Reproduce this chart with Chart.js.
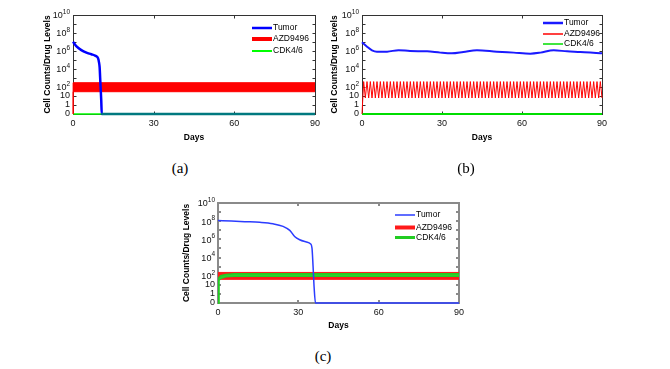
<!DOCTYPE html>
<html lang="en">
<head>
<meta charset="UTF-8">
<title>Tumor and drug levels</title>
<script src="https://cdn.jsdelivr.net/npm/chart.js@4"></script>
<style>
  body { margin: 0; background: #fff; width: 670px; height: 369px; position: relative; overflow: hidden; }
  canvas { position: absolute; }
  .cap { position: absolute; font-family: "Liberation Serif", "Times New Roman", serif; font-size: 15px;
         transform: translate(-50%, -50%); color: #000; }
</style>
</head>
<body>
<canvas id="chartA" width="326" height="149" style="left:1px;top:3px"></canvas>
<canvas id="chartB" width="324" height="149" style="left:290px;top:3px"></canvas>
<canvas id="chartC" width="325" height="150" style="left:146px;top:191px"></canvas>
<div class="cap" style="left:180px;top:168px">(a)</div>
<div class="cap" style="left:466px;top:168px">(b)</div>
<div class="cap" style="left:323px;top:356px">(c)</div>
<script>
// ---- data (days, cell counts / drug levels) ----
const seriesNames = ['Tumor', 'AZD9496', 'CDK4/6'];
const xTicks = [0, 30, 60, 90];
const yDecades = [0.1, 1, 10, 1e2, 1e3, 1e4, 1e5, 1e6, 1e7, 1e8, 1e9, 1e10];
const yLabelVals = [0.1, 1, 10, 1e2, 1e4, 1e6, 1e8, 1e10];
const yLabelBase = ['0', '1', '10', '10', '10', '10', '10', '10'];
const yLabelExp = ['', '', '', '2', '4', '6', '8', '10'];

// (a)
const tumorDaysA = [0, 1.2, 3.1, 5, 6.8, 8.4, 9.3, 9.67, 9.9, 10.2, 10.5, 10.7, 90];
const tumorA = [1.05e7, 3.5e6, 1.26e6, 6.6e5, 4.4e5, 2.9e5, 1.6e5, 5.4e4, 1.6e4, 230, 3.5, 0, 0];
const azdDaysA = [0, 0.05, 90];
const azdHighA = [0, 300, 300];
const azdLowA = [0, 30, 30];
const cdkDaysA = [0, 90];
const cdkA = [0, 0];

// (b)
const tumorDaysB = [0, 1.9, 3.75, 5.6, 9.4, 13.7, 18, 24.4, 29.4, 33.7, 38, 43.1, 50.6, 56.9, 63.1, 66.9, 71.9, 76.9, 81.9, 89.4, 90];
const tumorB = [9.5e6, 3.0e6, 1.2e6, 8.5e5, 8.5e5, 1.25e6, 1.0e6, 9.1e5, 6.6e5, 5.6e5, 7.9e5, 1.25e6, 8.5e5, 6.6e5, 5.1e5, 6.6e5, 1.2e6, 9.1e5, 7.8e5, 5.6e5, 5.5e5];
const azdStepB = 0.625; // days between a peak and the next trough
const azdB = [0,
  400, 6, 400, 6, 400, 6, 400, 6, 400, 6, 400, 6,
  400, 6, 400, 6, 400, 6, 400, 6, 400, 6, 400, 6,
  400, 6, 400, 6, 400, 6, 400, 6, 400, 6, 400, 6,
  400, 6, 400, 6, 400, 6, 400, 6, 400, 6, 400, 6,
  400, 6, 400, 6, 400, 6, 400, 6, 400, 6, 400, 6,
  400, 6, 400, 6, 400, 6, 400, 6, 400, 6, 400, 6,
  400, 6, 400, 6, 400, 6, 400, 6, 400, 6, 400, 6,
  400, 6, 400, 6, 400, 6, 400, 6, 400, 6, 400, 6,
  400, 6, 400, 6, 400, 6, 400, 6, 400, 6, 400, 6,
  400, 6, 400, 6, 400, 6, 400, 6, 400, 6, 400, 6,
  400, 6, 400, 6, 400, 6, 400, 6, 400, 6, 400, 6,
  400, 6, 400, 6, 400, 6, 400, 6, 400, 6, 400, 6];
const cdkDaysB = [0, 90];
const cdkB = [0, 0];

// (c)
const tumorDaysC = [0, 5, 10, 15.6, 20.5, 24.3, 26.8, 28.6, 30.5, 33, 34.5, 35.1, 35.5, 35.9, 36.4, 90];
const tumorC = [1.2e8, 1.05e8, 8.9e7, 7.4e7, 5.2e7, 2.7e7, 9.8e6, 2.1e6, 9.1e5, 5.1e5, 3.3e5, 1.1e5, 1.1e3, 5, 0, 0];
const azdDaysC = [0, 90];
const azdHighC = [230, 230];
const azdLowC = [40, 40];
const cdkDaysC = [0, 0.3, 1, 3, 6, 90];
const cdkHighC = [0, 60, 100, 140, 160, 160];
const cdkLowC = [0, 30, 50, 75, 90, 90];

// ---- drawing ----
const FONT = '"Liberation Sans", Arial, sans-serif';
Chart.defaults.font.family = FONT;
Chart.defaults.font.size = 9;
Chart.defaults.color = '#000';
Chart.defaults.animation = false;
Chart.defaults.elements.point.radius = 0;
Chart.defaults.elements.line.tension = 0;

const FLOOR = 0.1; // the "0" at the bottom of the log axis
const pts = (days, vals) => days.map((d, i) => ({ x: d, y: vals[i] > 0 ? vals[i] : FLOOR }));

// axes box with inward ticks (under the data, like the figure)
const boxPlugin = {
  id: 'box',
  beforeDatasetsDraw(chart, args, o) {
    const { ctx, chartArea: a, scales } = chart;
    const h = o.width % 2 ? 0.5 : 0;
    const L = Math.round(a.left) + h, R = Math.round(a.right) + h;
    const T = Math.round(a.top) + h, B = Math.round(a.bottom) + h;
    ctx.save();
    ctx.strokeStyle = o.color;
    ctx.lineWidth = o.width;
    ctx.strokeRect(L, T, R - L, B - T);
    ctx.beginPath();
    xTicks.forEach(v => {
      const px = Math.round(scales.x.getPixelForValue(v)) + h;
      ctx.moveTo(px, B); ctx.lineTo(px, B - 3);
      ctx.moveTo(px, T); ctx.lineTo(px, T + 3);
    });
    yDecades.forEach(v => {
      const py = Math.round(scales.y.getPixelForValue(v)) + h;
      ctx.moveTo(L, py); ctx.lineTo(L + 3, py);
      ctx.moveTo(R, py); ctx.lineTo(R - 3, py);
    });
    ctx.stroke();

    // y tick labels with raised exponents
    ctx.fillStyle = '#111';
    ctx.textBaseline = 'middle';
    ctx.textAlign = 'left';
    yLabelVals.forEach((v, i) => {
      const py = scales.y.getPixelForValue(v);
      ctx.font = '9px ' + FONT;
      const bw = ctx.measureText(yLabelBase[i]).width;
      let ew = 0;
      if (yLabelExp[i]) {
        ctx.font = '6.5px ' + FONT;
        ew = ctx.measureText(yLabelExp[i]).width;
      }
      const x0 = a.left - 3 - bw - ew;
      ctx.font = '9px ' + FONT;
      ctx.fillText(yLabelBase[i], x0, yLabelExp[i] ? py + 1 : py);
      if (yLabelExp[i]) {
        ctx.font = '6.5px ' + FONT;
        ctx.fillText(yLabelExp[i], x0 + bw, py - 3);
      }
    });
    ctx.restore();
  }
};

// legend inside the plot, no frame
const legendPlugin = {
  id: 'inlegend',
  afterDraw(chart, args, o) {
    const { ctx, chartArea: a } = chart;
    const x0 = a.right + o.dx;
    ctx.save();
    ctx.font = '8.5px ' + FONT;
    ctx.textBaseline = 'middle';
    ctx.fillStyle = '#000';
    o.items.forEach((it, i) => {
      const y = a.top + o.rows[i];
      ctx.strokeStyle = it.color;
      ctx.lineWidth = it.width;
      ctx.beginPath();
      ctx.moveTo(x0, y); ctx.lineTo(x0 + 20, y);
      ctx.stroke();
      ctx.fillText(seriesNames[i], x0 + 21, y);
    });
    ctx.restore();
  }
};

function makeChart(id, datasets, p) {
  // first dataset ends up on top
  datasets.forEach((d, i) => { d.clip = 4; d.order = i; });
  return new Chart(document.getElementById(id), {
    type: 'line',
    data: { datasets },
    plugins: [boxPlugin, legendPlugin],
    options: {
      responsive: false,
      devicePixelRatio: 1,
      layout: { padding: { left: 0, top: 12, right: 12, bottom: 0 } },
      plugins: {
        legend: { display: false },
        tooltip: { enabled: false },
        box: { color: p.axisColor, width: p.axisWidth },
        inlegend: { dx: p.legDx, rows: p.legRows, items: p.legItems }
      },
      scales: {
        x: {
          type: 'linear', min: 0, max: 90,
          afterBuildTicks: s => { s.ticks = xTicks.map(v => ({ value: v })); },
          afterFit: s => { s.height = 38; },
          grid: { display: false, drawTicks: false },
          border: { display: false },
          ticks: { padding: 4, maxRotation: 0, autoSkip: false, color: '#111' },
          title: { display: true, text: 'Days', padding: { top: 0, bottom: p.daysPad }, font: { size: 8.5, weight: 'bold' } }
        },
        y: {
          type: 'logarithmic', min: 0.1, max: 1e10,
          afterBuildTicks: s => { s.ticks = yDecades.map(v => ({ value: v })); },
          afterFit: s => { s.width = 72; },
          grid: { display: false, drawTicks: false },
          border: { display: false },
          ticks: { display: false },
          title: { display: true, text: 'Cell Counts/Drug Levels', padding: { top: p.titlePad, bottom: 0 }, font: { size: 8.5, weight: 'bold' } }
        }
      }
    }
  });
}

// (a) - where the dead tumor lies on the CDK4/6 line the two blend to teal
const tumorZeroA = tumorA.indexOf(0);
makeChart('chartA', [
  { label: 'Tumor', data: pts(tumorDaysA, tumorA), borderColor: '#0000ff', borderWidth: 2.5,
    cubicInterpolationMode: 'monotone',
    segment: { borderColor: c => (c.p0DataIndex >= tumorZeroA ? '#00797f' : undefined) } },
  { label: 'AZD9496', data: pts(azdDaysA, azdHighA), borderColor: '#ff0000', backgroundColor: '#ff0000', borderWidth: 1, fill: '+1' },
  { label: '', data: pts(azdDaysA, azdLowA), borderColor: '#ff0000', borderWidth: 1, fill: false },
  { label: 'CDK4/6', data: pts(cdkDaysA, cdkA), borderColor: '#00ff00', borderWidth: 1.5 }
], {
  axisColor: '#333', axisWidth: 1, titlePad: 42, daysPad: 9,
  legDx: -63, legRows: [13, 24, 36],
  legItems: [{ color: '#0000ff', width: 2.5 }, { color: '#ff0000', width: 4 }, { color: '#00ff00', width: 2 }]
});

// (b)
makeChart('chartB', [
  { label: 'Tumor', data: pts(tumorDaysB, tumorB), borderColor: '#1a1aff', borderWidth: 2, cubicInterpolationMode: 'monotone' },
  { label: 'AZD9496', data: pts(azdB.map((_, i) => i * azdStepB), azdB), borderColor: '#ff0000', borderWidth: 1 },
  { label: 'CDK4/6', data: pts(cdkDaysB, cdkB), borderColor: '#00dd00', borderWidth: 2 }
], {
  axisColor: '#333', axisWidth: 1, titlePad: 40, daysPad: 9,
  legDx: -59, legRows: [8, 19, 29],
  legItems: [{ color: '#1a1aff', width: 2.5 }, { color: '#ff0000', width: 1.5 }, { color: '#00dd00', width: 1.5 }]
});

// (c)
makeChart('chartC', [
  { label: 'Tumor', data: pts(tumorDaysC, tumorC), borderColor: '#2b3cff', borderWidth: 1.5, cubicInterpolationMode: 'monotone' },
  { label: 'CDK4/6', data: pts(cdkDaysC, cdkHighC), borderColor: '#22cc22', backgroundColor: '#2fd02f', borderWidth: 1.5, fill: '+1' },
  { label: '', data: pts(cdkDaysC, cdkLowC), borderColor: '#22cc22', borderWidth: 1.5, fill: false },
  { label: 'AZD9496', data: pts(azdDaysC, azdHighC), borderColor: '#ff1a1a', backgroundColor: '#ff1a1a', borderWidth: 1, fill: '+1' },
  { label: '', data: pts(azdDaysC, azdLowC), borderColor: '#ff1a1a', borderWidth: 1, fill: false }
], {
  axisColor: '#8a8a8a', axisWidth: 2, titlePad: 36, daysPad: 10,
  legDx: -64, legRows: [12, 24.5, 34.5],
  legItems: [{ color: '#2b3cff', width: 1.5 }, { color: '#ff1a1a', width: 4 }, { color: '#22cc22', width: 3 }]
});
</script>
</body>
</html>
